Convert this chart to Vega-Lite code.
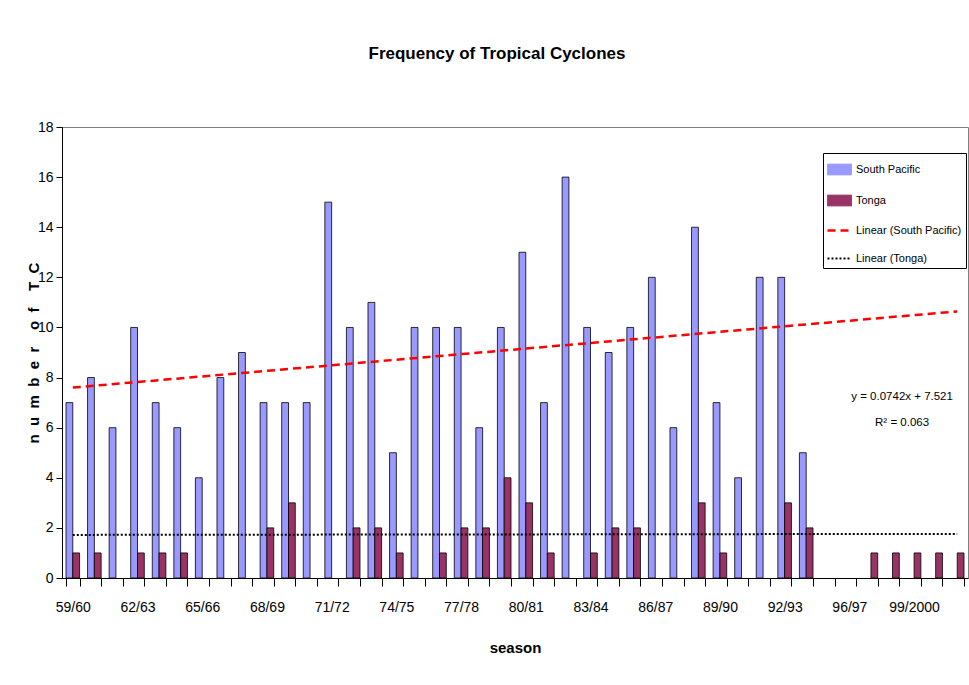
{
  "$schema": "https://vega.github.io/schema/vega-lite/v6.json",
  "width": 906,
  "height": 451,
  "autosize": "none",
  "padding": {"left": 62, "top": 127, "right": 1, "bottom": 107},
  "background": "#ffffff",
  "title": {
    "text": "Frequency of Tropical Cyclones",
    "font": "Liberation Sans",
    "fontSize": 17,
    "fontWeight": "bold",
    "color": "#000000",
    "offset": 57,
    "dx": -18
  },
  "config": {
    "view": {"stroke": "#808080", "strokeWidth": 1},
    "axis": {
      "labelFont": "Liberation Sans",
      "labelFontSize": 14,
      "labelColor": "#000000",
      "titleFont": "Liberation Sans",
      "titleFontSize": 15,
      "titleFontWeight": "bold",
      "titleColor": "#000000",
      "domainColor": "#000000",
      "tickColor": "#000000",
      "grid": false
    }
  },
  "datasets": {
    "bars": [
      {"season": "59/60", "series": "South Pacific", "value": 7}, {"season": "59/60", "series": "Tonga", "value": 1},
      {"season": "60/61", "series": "South Pacific", "value": 8}, {"season": "60/61", "series": "Tonga", "value": 1},
      {"season": "61/62", "series": "South Pacific", "value": 6},
      {"season": "62/63", "series": "South Pacific", "value": 10}, {"season": "62/63", "series": "Tonga", "value": 1},
      {"season": "63/64", "series": "South Pacific", "value": 7}, {"season": "63/64", "series": "Tonga", "value": 1},
      {"season": "64/65", "series": "South Pacific", "value": 6}, {"season": "64/65", "series": "Tonga", "value": 1},
      {"season": "65/66", "series": "South Pacific", "value": 4},
      {"season": "66/67", "series": "South Pacific", "value": 8},
      {"season": "67/68", "series": "South Pacific", "value": 9},
      {"season": "68/69", "series": "South Pacific", "value": 7}, {"season": "68/69", "series": "Tonga", "value": 2},
      {"season": "69/70", "series": "South Pacific", "value": 7}, {"season": "69/70", "series": "Tonga", "value": 3},
      {"season": "70/71", "series": "South Pacific", "value": 7},
      {"season": "71/72", "series": "South Pacific", "value": 15},
      {"season": "72/73", "series": "South Pacific", "value": 10}, {"season": "72/73", "series": "Tonga", "value": 2},
      {"season": "73/74", "series": "South Pacific", "value": 11}, {"season": "73/74", "series": "Tonga", "value": 2},
      {"season": "74/75", "series": "South Pacific", "value": 5}, {"season": "74/75", "series": "Tonga", "value": 1},
      {"season": "75/76", "series": "South Pacific", "value": 10},
      {"season": "76/77", "series": "South Pacific", "value": 10}, {"season": "76/77", "series": "Tonga", "value": 1},
      {"season": "77/78", "series": "South Pacific", "value": 10}, {"season": "77/78", "series": "Tonga", "value": 2},
      {"season": "78/79", "series": "South Pacific", "value": 6}, {"season": "78/79", "series": "Tonga", "value": 2},
      {"season": "79/80", "series": "South Pacific", "value": 10}, {"season": "79/80", "series": "Tonga", "value": 4},
      {"season": "80/81", "series": "South Pacific", "value": 13}, {"season": "80/81", "series": "Tonga", "value": 3},
      {"season": "81/82", "series": "South Pacific", "value": 7}, {"season": "81/82", "series": "Tonga", "value": 1},
      {"season": "82/83", "series": "South Pacific", "value": 16},
      {"season": "83/84", "series": "South Pacific", "value": 10}, {"season": "83/84", "series": "Tonga", "value": 1},
      {"season": "84/85", "series": "South Pacific", "value": 9}, {"season": "84/85", "series": "Tonga", "value": 2},
      {"season": "85/86", "series": "South Pacific", "value": 10}, {"season": "85/86", "series": "Tonga", "value": 2},
      {"season": "86/87", "series": "South Pacific", "value": 12},
      {"season": "87/88", "series": "South Pacific", "value": 6},
      {"season": "88/89", "series": "South Pacific", "value": 14}, {"season": "88/89", "series": "Tonga", "value": 3},
      {"season": "89/90", "series": "South Pacific", "value": 7}, {"season": "89/90", "series": "Tonga", "value": 1},
      {"season": "90/91", "series": "South Pacific", "value": 4},
      {"season": "91/92", "series": "South Pacific", "value": 12},
      {"season": "92/93", "series": "South Pacific", "value": 12}, {"season": "92/93", "series": "Tonga", "value": 3},
      {"season": "93/94", "series": "South Pacific", "value": 5}, {"season": "93/94", "series": "Tonga", "value": 2},
      {"season": "97/98", "series": "Tonga", "value": 1},
      {"season": "98/99", "series": "Tonga", "value": 1},
      {"season": "99/2000", "series": "Tonga", "value": 1},
      {"season": "2000/01", "series": "Tonga", "value": 1},
      {"season": "2001/02", "series": "Tonga", "value": 1}
    ],
    "trend": [
      {"season": "59/60", "series": "Linear (South Pacific)", "value": 7.6},
      {"season": "2001/02", "series": "Linear (South Pacific)", "value": 10.64},
      {"season": "59/60", "series": "Linear (Tonga)", "value": 1.72},
      {"season": "2001/02", "series": "Linear (Tonga)", "value": 1.76}
    ],
    "note": [
      {"season": "99/2000", "value": 7.22, "label": "y = 0.0742x + 7.521"},
      {"season": "99/2000", "value": 6.2, "label": "R² = 0.063"}
    ]
  },
  "encoding": {
    "x": {
      "field": "season",
      "type": "nominal",
      "scale": {
        "domain": ["59/60","60/61","61/62","62/63","63/64","64/65","65/66","66/67","67/68","68/69","69/70","70/71","71/72","72/73","73/74","74/75","75/76","76/77","77/78","78/79","79/80","80/81","81/82","82/83","83/84","84/85","85/86","86/87","87/88","88/89","89/90","90/91","91/92","92/93","93/94","94/95","96/97","97/98","98/99","99/2000","2000/01","2001/02"],
        "paddingInner": 0.37,
        "paddingOuter": 0.185
      },
      "axis": {
        "title": "season",
        "labelAngle": 0,
        "tickBand": "extent",
        "tickSize": 8,
        "labelPadding": 14,
        "titlePadding": 26,
        "labelExpr": "indexof(['59/60','62/63','65/66','68/69','71/72','74/75','77/78','80/81','83/84','86/87','89/90','92/93','96/97','99/2000'], datum.label) >= 0 ? datum.label : ''"
      }
    },
    "y": {
      "field": "value",
      "type": "quantitative",
      "scale": {"domain": [0, 18], "nice": false},
      "axis": {
        "title": "n\u00a0 u\u00a0 m\u00a0 b\u00a0 e\u00a0 r\u00a0 \u00a0 o\u00a0 f\u00a0 \u00a0 T\u00a0 C",
        "values": [0, 2, 4, 6, 8, 10, 12, 14, 16, 18],
        "tickSize": 6,
        "labelPadding": 3,
        "titleX": -24,
        "titleBaseline": "alphabetic"
      }
    }
  },
  "layer": [
    {
      "data": {"name": "bars"},
      "mark": {"type": "bar", "stroke": "#000000", "strokeWidth": 0.8},
      "encoding": {
        "xOffset": {"field": "series", "type": "nominal", "scale": {"paddingInner": 0, "paddingOuter": 0}},
        "color": {
          "field": "series",
          "type": "nominal",
          "scale": {
            "domain": ["South Pacific", "Tonga", "Linear (South Pacific)", "Linear (Tonga)"],
            "range": ["#9999FF", "#993366", "#FF0000", "#000000"]
          },
          "legend": {
            "title": "\u00a0",
            "titleFontSize": 7,
            "titlePadding": 0,
            "orient": "none",
            "legendX": 761,
            "legendY": 26,
            "strokeColor": "#000000",
            "fillColor": "#ffffff",
            "padding": 4,
            "labelFont": "Liberation Sans",
            "labelFontSize": 11,
            "labelColor": "#000000",
            "labelOffset": 11,
            "symbolOffset": 7,
            "symbolSize": 576,
            "rowPadding": 16,
            "encode": {
              "symbols": {
                "update": {
                  "shape": {"signal": "indexof(['South Pacific','Tonga'], datum.value) >= 0 ? 'M-1,-0.45H1V0.45H-1Z' : 'M-1,0H1'"},
                  "fill": {"signal": "datum.value == 'South Pacific' ? '#9999FF' : datum.value == 'Tonga' ? '#993366' : 'transparent'"},
                  "stroke": {"signal": "datum.value == 'Linear (South Pacific)' ? '#FF0000' : '#000000'"},
                  "strokeWidth": {"signal": "datum.value == 'Linear (South Pacific)' ? 2.5 : datum.value == 'Linear (Tonga)' ? 2 : 1"},
                  "strokeDash": {"signal": "datum.value == 'Linear (South Pacific)' ? [8, 5] : datum.value == 'Linear (Tonga)' ? [2, 2] : [1, 0]"},
                  "opacity": {"value": 1},
                  "fillOpacity": {"value": 1},
                  "strokeOpacity": {"value": 1}
                }
              }
            }
          }
        }
      }
    },
    {
      "data": {"name": "trend"},
      "mark": {"type": "line"},
      "encoding": {
        "color": {
          "field": "series",
          "type": "nominal",
          "legend": {
            "title": "\u00a0",
            "titleFontSize": 7,
            "titlePadding": 0,
            "orient": "none",
            "legendX": 761,
            "legendY": 26,
            "strokeColor": "#000000",
            "fillColor": "#ffffff",
            "padding": 4,
            "labelFont": "Liberation Sans",
            "labelFontSize": 11,
            "labelColor": "#000000",
            "labelOffset": 11,
            "symbolOffset": 7,
            "symbolSize": 576,
            "rowPadding": 16,
            "encode": {
              "symbols": {
                "update": {
                  "shape": {"signal": "indexof(['South Pacific','Tonga'], datum.value) >= 0 ? 'M-1,-0.45H1V0.45H-1Z' : 'M-1,0H1'"},
                  "fill": {"signal": "datum.value == 'South Pacific' ? '#9999FF' : datum.value == 'Tonga' ? '#993366' : 'transparent'"},
                  "stroke": {"signal": "datum.value == 'Linear (South Pacific)' ? '#FF0000' : '#000000'"},
                  "strokeWidth": {"signal": "datum.value == 'Linear (South Pacific)' ? 2.5 : datum.value == 'Linear (Tonga)' ? 2 : 1"},
                  "strokeDash": {"signal": "datum.value == 'Linear (South Pacific)' ? [8, 5] : datum.value == 'Linear (Tonga)' ? [2, 2] : [1, 0]"},
                  "opacity": {"value": 1},
                  "fillOpacity": {"value": 1},
                  "strokeOpacity": {"value": 1}
                }
              }
            }
          }
        },
        "strokeDash": {
          "field": "series",
          "type": "nominal",
          "scale": {"domain": ["Linear (South Pacific)", "Linear (Tonga)"], "range": [[8, 5], [2, 2]]},
          "legend": null
        },
        "strokeWidth": {
          "field": "series",
          "type": "nominal",
          "scale": {"domain": ["Linear (South Pacific)", "Linear (Tonga)"], "range": [2.5, 2]},
          "legend": null
        }
      }
    },
    {
      "data": {"name": "note"},
      "mark": {"type": "text", "font": "Liberation Sans", "fontSize": 11.5, "color": "#000000", "dx": -12, "align": "center", "baseline": "middle"},
      "encoding": {
        "text": {"field": "label", "type": "nominal"}
      }
    }
  ]
}
